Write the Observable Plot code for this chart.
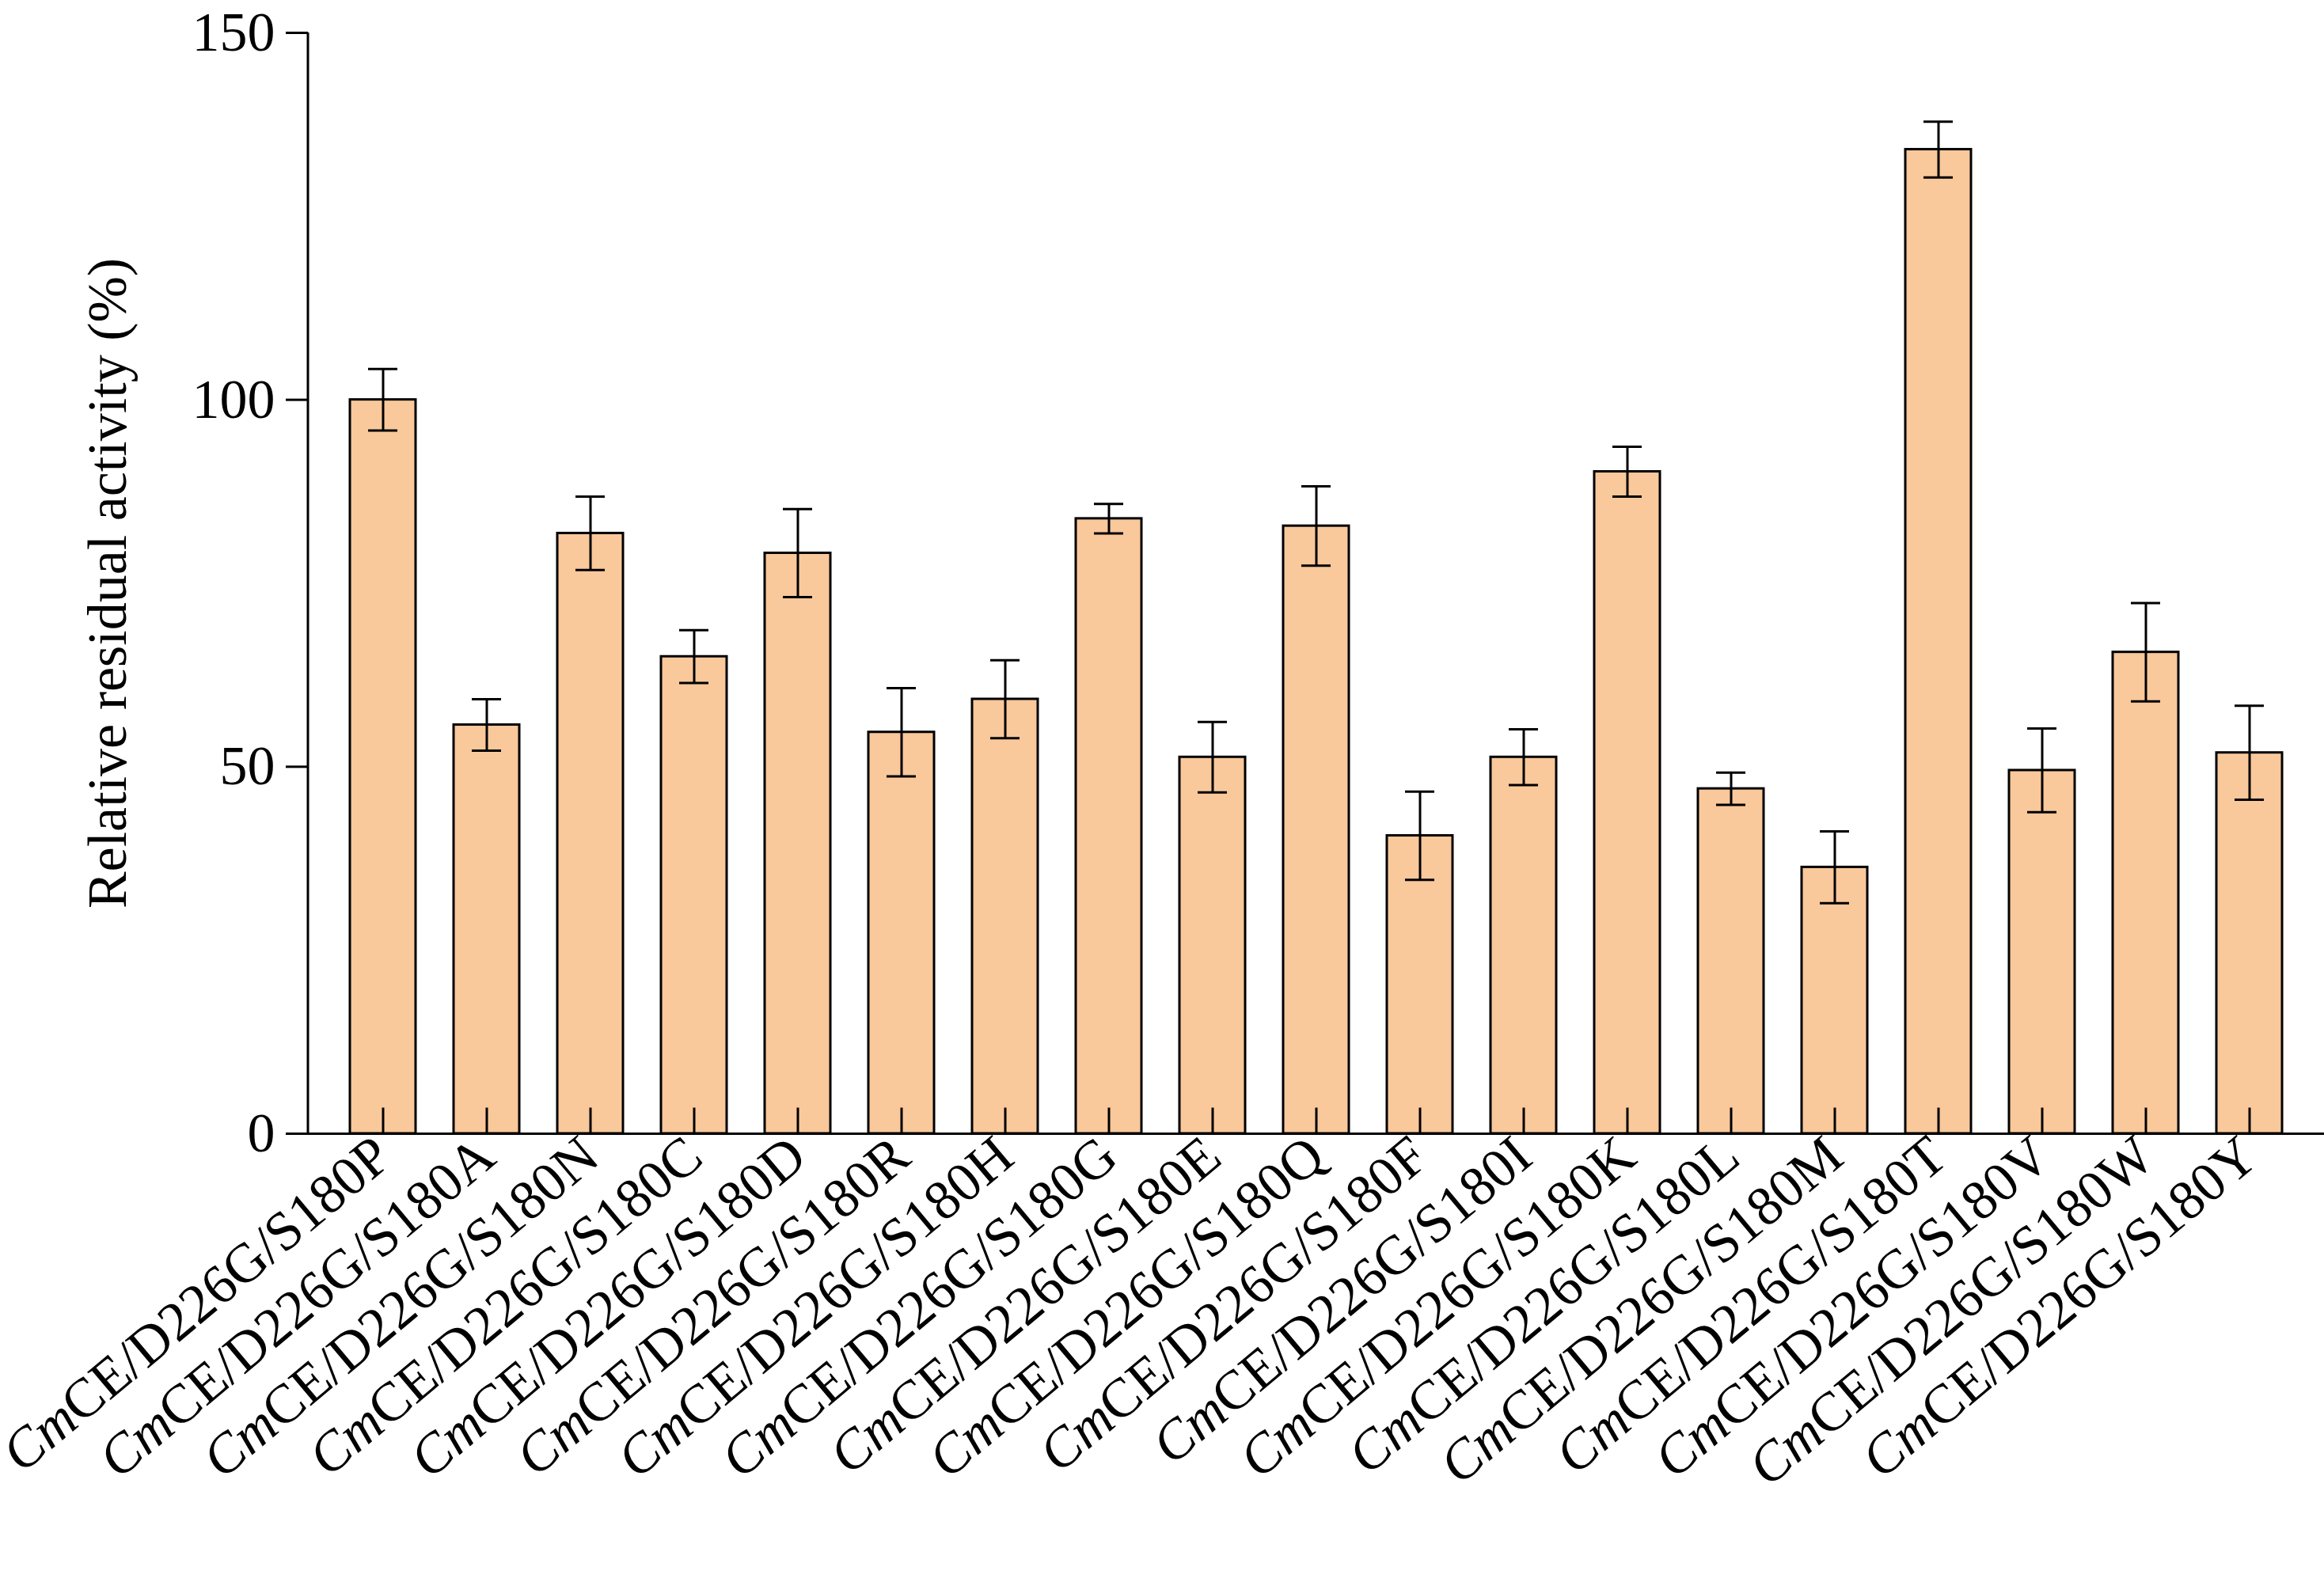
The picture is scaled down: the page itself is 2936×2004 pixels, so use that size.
<!DOCTYPE html>
<html><head><meta charset="utf-8">
<script src="https://cdn.jsdelivr.net/npm/d3@7"></script>
<script src="https://cdn.jsdelivr.net/npm/@observablehq/plot@0.6"></script>
<style>body{margin:0;background:#fff}</style>
</head><body><div id="chart"></div>
<script>
const mutants = ["P","A","N","C","D","R","H","G","E","Q","F","I","K","L","M","T","V","W","Y"];
const means = [100,55.7,81.8,65,79.1,54.7,59.2,83.8,51.3,82.8,40.6,51.3,90.2,47.0,36.3,134.1,49.5,65.6,51.9];
const errs = [4.2,3.5,5,3.6,6,6,5.3,2,4.8,5.4,6,3.8,3.4,2.2,4.9,3.8,5.7,6.7,6.4];
const yTicks = [0,50,100,150];
const prefix = "CmCE/D226G/S180";

const data = mutants.map((m,i)=>({name: prefix+m, v: means[i], lo: means[i]-errs[i], hi: means[i]+errs[i]}));
const names = data.map(d=>d.name);

const plot = Plot.plot({
  width: 2936, height: 2004,
  marginLeft: 389, marginTop: 41, marginBottom: 572, marginRight: 0,
  style: {fontFamily: "'Liberation Serif', 'Times New Roman', serif", fontSize: "70px", color: "#000", background: "#fff"},
  x: {domain: names, paddingInner: 0.37, paddingOuter: 0.36, label: null},
  y: {domain: [0,150], label: null},
  marks: [
    Plot.barY(data, {x: "name", y: "v", fill: "#F9C89B", stroke: "#000", strokeWidth: 3}),
    Plot.ruleX(data, {x: "name", y1: "lo", y2: "hi", stroke: "#000", strokeWidth: 3}),
    Plot.tickY(data, {x: "name", y: "lo", stroke: "#000", strokeWidth: 3, insetLeft: 23, insetRight: 23}),
    Plot.tickY(data, {x: "name", y: "hi", stroke: "#000", strokeWidth: 3, insetLeft: 23, insetRight: 23}),
    Plot.ruleX(names, {x: d=>d, y1: 0, y2: 3.5, stroke: "#000", strokeWidth: 3}),
    Plot.axisY({ticks: yTicks, tickSize: 28, tickPadding: 14, tickFormat: d=>String(d), fontSize: 70, strokeWidth: 3,
      label: "Relative residual activity (%)", labelAnchor: "center", labelArrow: "none", labelOffset: 280}),
    Plot.axisX({tickSize: 0, tickRotate: -40, tickPadding: 18, fontSize: 70, label: null}),
    Plot.ruleY([0], {strokeWidth: 3}),
  ]
});
document.getElementById("chart").appendChild(plot);
const svg = d3.select(plot);
svg.append("line").attr("x1",389).attr("x2",389).attr("y1",41).attr("y2",2004-572).attr("stroke","#000").attr("stroke-width",3);
svg.selectAll('g[aria-label="x-axis tick label"] text').each(function(){
  const t = d3.select(this); const s = t.text();
  t.text(""); t.append("tspan").attr("font-style","italic").text(s.slice(0,2));
  t.append("tspan").text(s.slice(2));
});
</script></body></html>
